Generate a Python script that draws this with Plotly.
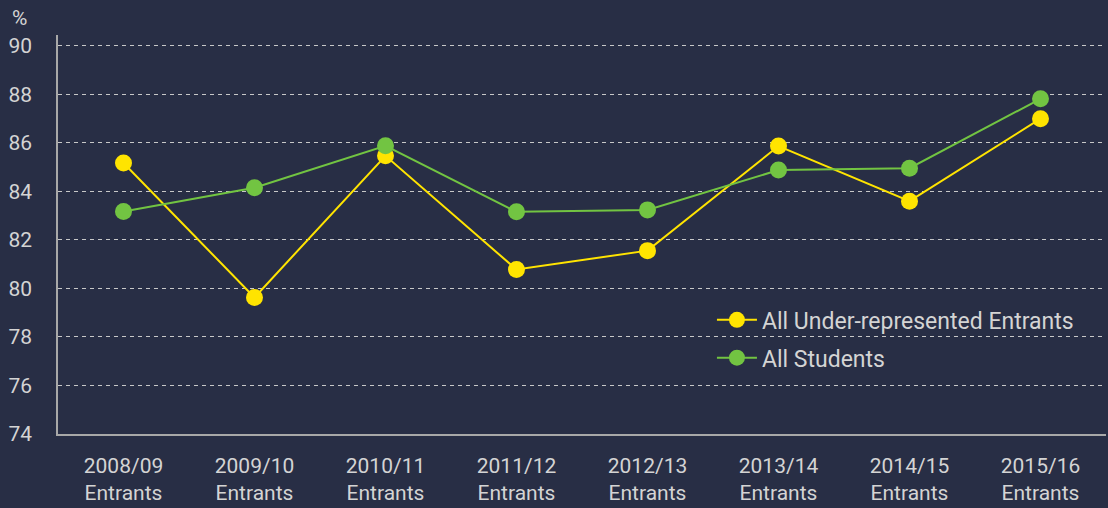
import plotly.graph_objects as go

categories = ["2008/09<br>Entrants", "2009/10<br>Entrants", "2010/11<br>Entrants", "2011/12<br>Entrants",
              "2012/13<br>Entrants", "2013/14<br>Entrants", "2014/15<br>Entrants", "2015/16<br>Entrants"]
under_represented = [85.17, 79.63, 85.47, 80.78, 81.56, 85.87, 83.6, 87.0]
all_students = [83.17, 84.15, 85.88, 83.16, 83.24, 84.88, 84.96, 87.82]
y_ticks = [74, 76, 78, 80, 82, 84, 86, 88, 90]

BG = "#282e45"
TXT = "#d4d4d4"
FONT = "Roboto, DejaVu Sans, sans-serif"

fig = go.Figure()
fig.add_trace(go.Scatter(x=categories, y=under_represented, name="All Under-represented Entrants",
                         mode="lines+markers", line=dict(color="#ffe400", width=2),
                         marker=dict(color="#ffe400", size=17), legendgroup="a"))
fig.add_trace(go.Scatter(x=categories, y=all_students, name="All Students",
                         mode="lines+markers", line=dict(color="#72c442", width=2),
                         marker=dict(color="#72c442", size=17), legendgroup="b"))

fig.update_layout(
    width=1108, height=508,
    paper_bgcolor=BG, plot_bgcolor=BG,
    margin=dict(l=58, r=2, t=35, b=74),
    font=dict(family=FONT, color=TXT, size=21),
    showlegend=True,
    legend=dict(x=0.624, y=0.34, xanchor="left", yanchor="top", bgcolor="rgba(0,0,0,0)",
                font=dict(size=23, color=TXT), itemwidth=40, tracegroupgap=5,
                traceorder="grouped"),
    annotations=[dict(text="%", xref="paper", yref="paper", x=-0.0363, y=1.0426,
                      xanchor="center", yanchor="middle", showarrow=False,
                      font=dict(size=21, color=TXT))],
)

fig.update_xaxes(showgrid=False, showline=True, linecolor="#a8a8a8", linewidth=1.5,
                 ticks="", tickfont=dict(size=21, color=TXT), zeroline=False,
                 range=[-0.5, 7.5], ticklabelstandoff=12, automargin=False)
fig.update_yaxes(range=[74, 90.45], tickvals=y_ticks, showgrid=True, gridcolor="#c8c8c8",
                 griddash="4px,4px", gridwidth=1, showline=True, linecolor="#a8a8a8", linewidth=1.5,
                 ticks="", tickfont=dict(size=21, color=TXT), zeroline=False,
                 ticklabelstandoff=20, automargin=False)

fig.write_html("out.html", config={"displayModeBar": False},
               post_script="document.body.style.margin='0';")
